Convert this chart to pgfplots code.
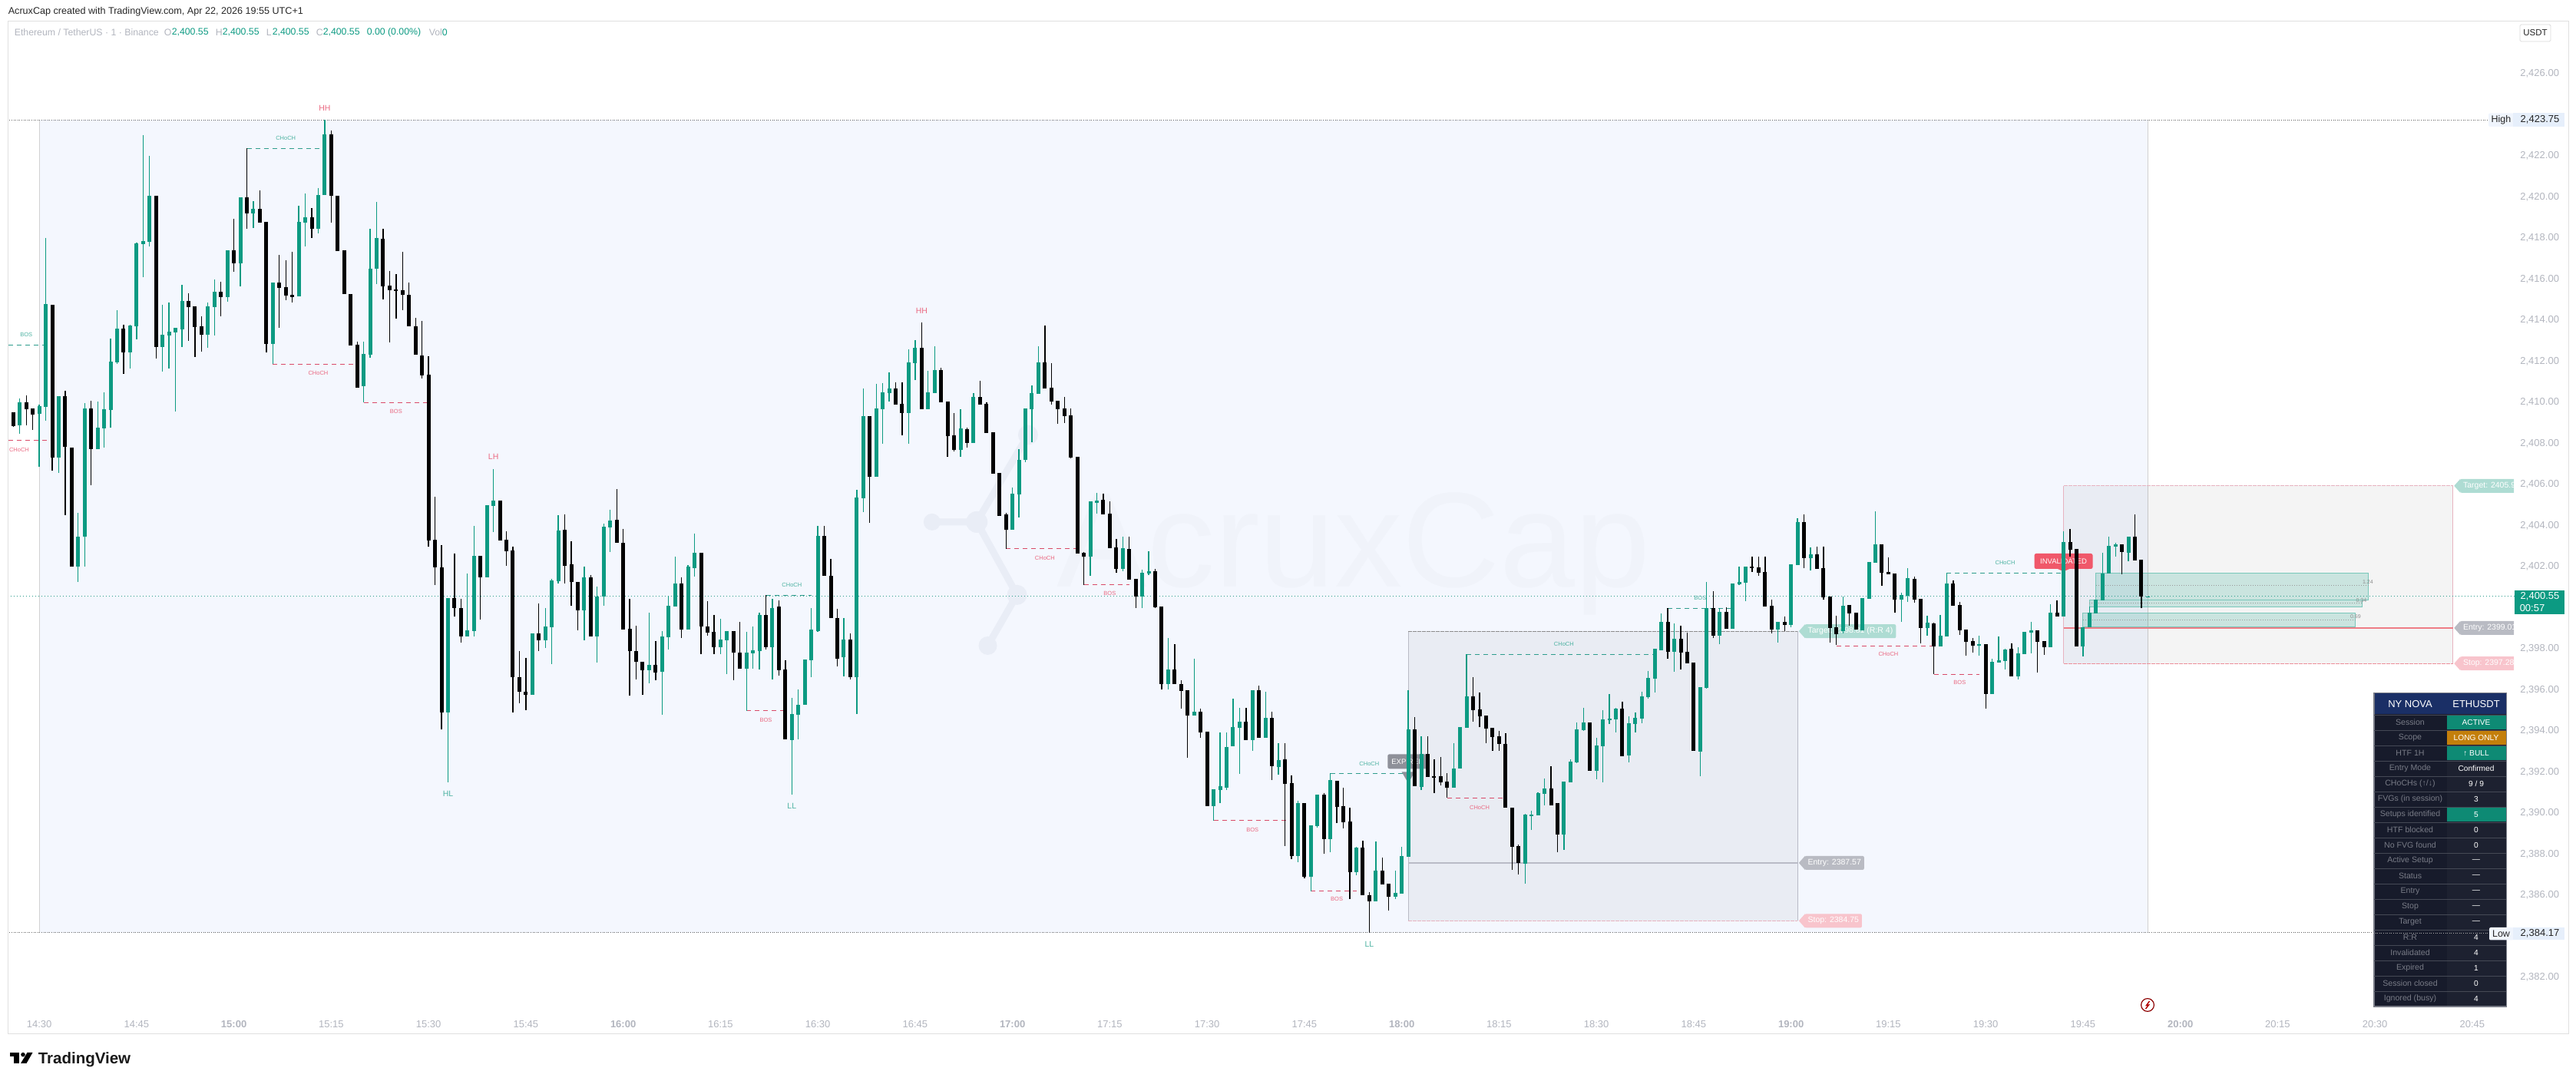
\documentclass[border=0pt]{standalone}
\usepackage{fontspec}
\setmainfont{Liberation Sans}
\usepackage{pgfplots}
\usepackage{pgfplotstable}
\pgfplotsset{compat=1.18}
\newcommand{\fs}[1]{\pgfmathsetlengthmacro\tmpfs{#1pt/4}\fontsize{\tmpfs}{\tmpfs}\selectfont}
\definecolor{tvgreen}{HTML}{0C9A82}
\definecolor{tvtick}{HTML}{B2B5BE}
\definecolor{tealtxt}{HTML}{4FB3A3}
\definecolor{redtxt}{HTML}{EA6A82}
\definecolor{tealdash}{HTML}{2E9C8C}
\definecolor{reddash}{HTML}{D94A68}
\definecolor{session}{HTML}{F4F7FE}
\definecolor{wm}{HTML}{F0F3FA}
\definecolor{wmlogo}{HTML}{E9EDF6}
\definecolor{callteal}{HTML}{AEDCD3}
\definecolor{callgray}{HTML}{B9BBC3}
\definecolor{callpink}{HTML}{F8C4CC}
\definecolor{zonegray}{HTML}{B9BBC6}
\definecolor{zonepink}{HTML}{E7B3C0}
\definecolor{flaggray}{HTML}{8E9099}
\definecolor{flagred}{HTML}{F0586A}
\definecolor{hudbg}{HTML}{1D2130}
\definecolor{hudleft}{HTML}{171B2B}
\definecolor{hudhead}{HTML}{1A2F66}
\definecolor{hudteal}{HTML}{0E8A74}
\definecolor{hudorange}{HTML}{C47F0B}
\definecolor{hudtxt}{HTML}{787B86}
\definecolor{tagbg}{HTML}{E6EFFB}
\pgfplotstableread{
m o h l c
-5 2412.28 2412.28 2409.53 2409.53
-4 2409.53 2409.53 2408.82 2408.84
-3 2408.86 2410.20 2408.46 2409.99
-2 2409.99 2410.32 2408.89 2409.67
-1 2409.69 2409.69 2408.67 2409.40
0 2409.43 2409.89 2406.87 2409.82
1 2409.79 2418.00 2409.10 2414.78
2 2414.74 2414.74 2406.67 2407.31
3 2407.31 2410.30 2406.55 2410.30
4 2410.30 2410.56 2404.50 2407.84
5 2407.81 2407.81 2401.98 2401.98
6 2401.98 2404.60 2401.26 2403.44
7 2403.44 2409.96 2401.99 2409.70
8 2409.70 2410.07 2405.95 2407.70
9 2407.70 2410.03 2407.70 2408.76
10 2408.74 2410.49 2407.79 2409.65
11 2409.63 2413.11 2408.77 2411.98
12 2411.95 2414.48 2411.86 2413.58
13 2413.58 2413.79 2411.39 2412.43
14 2412.43 2413.77 2411.65 2413.74
15 2413.71 2417.77 2413.06 2417.74
16 2417.70 2423.01 2416.11 2417.84
17 2417.81 2421.99 2417.59 2420.06
18 2420.06 2420.06 2412.13 2412.69
19 2412.69 2414.75 2411.49 2413.29
20 2413.25 2414.85 2411.65 2413.44
21 2413.39 2413.62 2409.56 2413.62
22 2413.55 2415.71 2412.69 2414.94
23 2414.94 2415.31 2412.99 2414.64
24 2414.67 2414.67 2412.21 2413.68
25 2413.69 2414.18 2412.46 2413.29
26 2413.29 2414.85 2412.65 2414.67
27 2414.64 2415.97 2413.25 2415.38
28 2415.38 2415.87 2414.18 2415.12
29 2415.12 2417.40 2414.90 2417.40
30 2417.40 2418.93 2416.37 2416.77
31 2416.77 2419.97 2415.64 2419.97
32 2419.97 2422.36 2418.44 2419.19
33 2419.19 2419.79 2418.49 2419.42
34 2419.42 2420.32 2418.74 2418.74
35 2418.79 2418.79 2412.42 2412.84
36 2412.84 2415.83 2411.85 2415.83
37 2415.83 2417.17 2413.62 2415.57
38 2415.61 2416.93 2414.97 2415.20
39 2415.22 2417.33 2414.85 2415.12
40 2415.15 2419.57 2415.15 2418.79
41 2418.74 2420.16 2417.59 2419.00
42 2419.00 2419.46 2418.00 2418.44
43 2418.44 2420.44 2418.24 2420.08
44 2420.08 2423.75 2420.08 2423.05
45 2423.05 2423.25 2418.74 2420.06
46 2420.06 2420.06 2417.37 2417.37
47 2417.41 2417.41 2415.27 2415.27
48 2415.27 2415.27 2412.78 2412.78
49 2412.81 2412.96 2410.71 2410.71
50 2410.79 2412.96 2409.99 2412.35
51 2412.33 2418.44 2412.17 2416.52
52 2416.52 2419.74 2415.74 2418.01
53 2417.96 2418.44 2415.02 2415.64
54 2415.67 2416.41 2412.90 2415.47
55 2415.49 2416.24 2414.07 2415.45
56 2415.44 2417.32 2414.49 2415.22
57 2415.24 2415.82 2413.69 2413.69
58 2413.70 2414.10 2412.30 2412.30
59 2412.28 2413.95 2411.15 2411.32
60 2411.35 2412.23 2402.98 2403.28
61 2403.31 2405.39 2401.09 2401.95
62 2401.96 2403.06 2394.08 2394.88
63 2394.88 2400.47 2391.50 2400.47
64 2400.47 2402.63 2399.55 2399.97
65 2399.97 2400.44 2398.28 2398.61
66 2398.61 2401.67 2398.61 2398.90
67 2398.84 2403.97 2398.61 2402.52
68 2402.52 2402.52 2399.43 2401.47
69 2401.47 2405.00 2401.47 2405.00
70 2404.96 2406.75 2403.69 2405.21
71 2405.21 2405.21 2403.28 2403.28
72 2403.31 2403.72 2402.04 2402.74
73 2402.79 2402.98 2394.89 2396.60
74 2396.62 2397.90 2395.35 2395.91
75 2395.91 2397.56 2395.01 2395.75
76 2395.75 2398.75 2395.75 2398.75
77 2398.75 2400.20 2397.90 2398.41
78 2398.41 2399.98 2398.04 2399.09
79 2399.05 2401.40 2397.26 2401.32
80 2401.30 2404.50 2401.18 2403.76
81 2403.79 2404.55 2401.18 2402.03
82 2402.11 2403.23 2400.10 2401.25
83 2401.25 2401.25 2398.90 2399.88
84 2399.88 2402.01 2398.41 2401.47
85 2401.47 2401.59 2398.61 2398.61
86 2398.61 2401.03 2397.33 2400.54
87 2400.53 2404.09 2400.10 2403.94
88 2403.91 2404.78 2402.69 2404.25
89 2404.29 2405.77 2403.14 2403.14
90 2403.16 2403.84 2398.95 2398.95
91 2398.97 2400.42 2395.73 2397.87
92 2397.87 2399.11 2396.51 2397.37
93 2397.37 2397.37 2395.75 2396.95
94 2396.95 2399.74 2396.31 2397.20
95 2397.20 2398.39 2396.47 2396.83
96 2396.89 2398.84 2394.77 2398.59
97 2398.57 2400.57 2397.95 2400.09
98 2400.05 2402.48 2400.05 2401.19
99 2401.19 2401.48 2398.53 2398.93
100 2398.93 2402.07 2398.93 2402.00
101 2401.92 2403.61 2401.51 2402.67
102 2402.67 2402.67 2397.72 2399.07
103 2399.07 2400.32 2398.64 2398.78
104 2398.82 2399.65 2397.72 2398.07
105 2398.07 2399.45 2397.72 2398.45
106 2398.41 2398.87 2396.75 2398.87
107 2398.87 2398.87 2396.47 2397.80
108 2397.81 2399.30 2397.03 2397.03
109 2397.03 2398.82 2394.98 2397.81
110 2397.78 2399.07 2397.03 2397.91
111 2397.87 2399.76 2397.00 2399.65
112 2399.65 2400.61 2397.95 2398.07
113 2398.07 2400.42 2396.51 2399.99
114 2400.05 2400.34 2396.70 2396.95
115 2396.99 2397.43 2393.58 2393.58
116 2393.56 2395.60 2390.88 2394.83
117 2394.79 2396.02 2393.58 2395.27
118 2395.25 2397.47 2395.25 2397.47
119 2397.43 2399.97 2396.62 2398.95
120 2398.87 2403.98 2398.82 2403.50
121 2403.50 2403.98 2401.55 2401.55
122 2401.55 2402.38 2399.51 2399.51
123 2399.51 2399.93 2397.14 2397.53
124 2397.59 2399.50 2396.66 2398.45
125 2398.43 2398.75 2396.50 2396.60
126 2396.60 2405.72 2394.82 2405.36
127 2405.34 2410.68 2404.67 2409.33
128 2409.33 2409.33 2404.14 2406.39
129 2406.39 2410.90 2406.39 2409.71
130 2409.68 2410.94 2407.99 2410.49
131 2410.45 2411.46 2410.04 2410.68
132 2410.68 2410.98 2409.90 2409.90
133 2409.93 2410.98 2408.40 2409.48
134 2409.48 2412.58 2407.99 2411.95
135 2411.92 2413.03 2411.09 2412.66
136 2412.65 2413.89 2409.66 2409.66
137 2409.66 2411.53 2409.66 2410.48
138 2410.45 2412.73 2410.45 2411.57
139 2411.57 2411.68 2410.00 2410.00
140 2410.04 2410.04 2407.34 2408.35
141 2408.39 2409.47 2407.61 2407.68
142 2407.68 2409.66 2407.34 2408.73
143 2408.69 2408.76 2407.79 2408.02
144 2408.02 2410.45 2408.02 2410.26
145 2410.26 2411.05 2409.89 2409.89
146 2409.92 2410.00 2408.50 2408.50
147 2408.54 2408.54 2406.52 2406.52
148 2406.56 2406.56 2404.47 2404.47
149 2404.54 2404.60 2402.86 2403.79
150 2403.79 2405.85 2403.79 2405.55
151 2405.51 2407.72 2404.39 2407.19
152 2407.19 2409.70 2407.08 2409.70
153 2409.66 2410.82 2408.05 2410.45
154 2410.41 2412.73 2410.41 2411.94
155 2411.94 2413.74 2410.67 2410.67
156 2410.71 2411.90 2409.89 2410.04
157 2410.07 2410.07 2408.95 2409.66
158 2409.70 2410.26 2408.99 2409.33
159 2409.36 2409.70 2407.27 2407.31
160 2407.34 2407.34 2402.63 2402.63
161 2402.67 2402.71 2401.11 2402.48
162 2402.48 2405.18 2401.55 2405.18
163 2405.10 2405.59 2404.58 2405.21
164 2405.25 2405.55 2404.54 2404.54
165 2404.58 2405.18 2402.90 2402.90
166 2402.93 2403.34 2401.70 2401.89
167 2401.89 2403.46 2401.77 2402.90
168 2402.86 2403.46 2401.36 2401.36
169 2401.40 2401.40 2399.98 2400.54
170 2400.54 2401.85 2399.98 2401.70
171 2401.65 2402.75 2401.59 2401.77
172 2401.77 2401.89 2399.98 2400.02
173 2400.06 2400.06 2396.00 2396.28
174 2396.28 2398.51 2396.00 2396.97
175 2396.97 2398.21 2396.28 2396.28
176 2396.28 2396.45 2395.10 2395.94
177 2395.96 2395.96 2392.68 2394.74
178 2394.76 2397.50 2394.76 2394.93
179 2394.93 2395.10 2393.66 2393.92
180 2393.96 2393.96 2390.32 2390.32
181 2390.32 2391.17 2389.63 2391.17
182 2391.11 2393.92 2390.49 2391.30
183 2391.24 2393.92 2391.13 2393.23
184 2393.24 2395.56 2393.24 2394.19
185 2394.14 2395.12 2391.91 2394.46
186 2394.46 2395.12 2393.54 2393.54
187 2393.54 2395.97 2393.04 2395.97
188 2395.97 2396.19 2393.67 2393.67
189 2393.66 2395.90 2393.66 2394.63
190 2394.63 2394.93 2391.61 2392.27
191 2392.25 2393.40 2391.88 2392.57
192 2392.61 2393.40 2388.39 2391.41
193 2391.45 2391.83 2387.75 2387.92
194 2387.92 2390.60 2387.61 2390.50
195 2390.48 2390.48 2386.83 2386.90
196 2386.90 2389.39 2386.20 2389.39
197 2389.37 2390.91 2389.28 2390.91
198 2390.90 2390.98 2388.03 2388.72
199 2388.72 2391.95 2388.09 2391.60
200 2391.57 2391.57 2389.52 2390.29
201 2390.34 2391.23 2389.25 2389.55
202 2389.58 2390.25 2385.80 2387.12
203 2387.12 2388.35 2386.98 2388.32
204 2388.31 2388.64 2385.98 2385.98
205 2385.99 2386.16 2384.17 2385.70
206 2385.70 2388.61 2385.70 2387.19
207 2387.19 2387.82 2386.52 2386.52
208 2386.56 2386.56 2385.25 2385.92
209 2385.92 2387.19 2385.82 2386.10
210 2386.07 2388.35 2386.07 2387.91
211 2387.86 2395.97 2387.86 2394.07
212 2394.07 2394.66 2391.30 2391.30
213 2391.27 2393.74 2391.13 2392.86
214 2392.86 2393.74 2391.75 2391.75
215 2391.78 2392.61 2390.97 2391.75
216 2391.78 2392.71 2391.34 2391.50
217 2391.53 2391.93 2390.74 2391.23
218 2391.23 2393.40 2391.23 2392.17
219 2392.17 2394.19 2392.17 2394.19
220 2394.14 2397.72 2394.14 2395.67
221 2395.67 2396.62 2394.44 2395.00
222 2395.04 2395.86 2394.19 2394.70
223 2394.74 2394.74 2393.40 2394.10
224 2394.14 2394.14 2393.04 2393.70
225 2393.73 2394.00 2393.04 2393.36
226 2393.36 2393.89 2390.24 2390.24
227 2390.25 2390.25 2387.23 2388.35
228 2388.39 2388.46 2387.01 2387.55
229 2387.52 2389.95 2386.56 2389.92
230 2389.89 2390.11 2389.18 2389.92
231 2389.89 2391.00 2389.89 2390.96
232 2390.92 2391.67 2390.38 2391.20
233 2391.20 2392.27 2390.38 2390.38
234 2390.49 2390.49 2388.08 2388.94
235 2388.94 2391.52 2388.19 2391.52
236 2391.51 2392.60 2391.51 2392.49
237 2392.47 2394.41 2392.42 2394.08
238 2394.04 2395.13 2393.98 2394.41
239 2394.41 2394.41 2392.06 2392.06
240 2392.06 2393.66 2391.65 2393.29
241 2393.25 2395.01 2391.50 2394.56
242 2394.52 2395.79 2394.34 2394.60
243 2394.56 2395.11 2393.93 2395.08
244 2395.08 2395.42 2392.77 2392.77
245 2392.80 2394.71 2392.47 2394.37
246 2394.34 2394.90 2393.93 2394.64
247 2394.60 2395.91 2394.37 2395.68
248 2395.65 2396.92 2395.55 2396.58
249 2396.54 2398.00 2395.87 2398.00
250 2397.93 2399.72 2397.93 2399.31
251 2399.31 2399.98 2397.51 2397.85
252 2397.85 2399.23 2396.88 2398.49
253 2398.49 2399.12 2396.99 2397.81
254 2397.85 2398.78 2397.29 2397.29
255 2397.33 2397.33 2393.03 2393.03
256 2392.99 2396.13 2391.79 2396.13
257 2396.09 2401.25 2396.06 2399.98
258 2399.98 2400.80 2398.52 2398.64
259 2398.64 2399.98 2398.22 2399.79
260 2399.79 2400.02 2398.97 2398.97
261 2398.97 2401.18 2398.97 2401.18
262 2401.13 2402.00 2401.10 2401.25
263 2401.22 2402.00 2400.32 2402.00
264 2402.00 2402.49 2401.74 2401.95
265 2401.96 2402.49 2401.55 2401.70
266 2401.74 2402.49 2400.06 2400.06
267 2400.09 2400.39 2398.75 2398.93
268 2398.93 2399.31 2398.30 2399.31
269 2399.31 2399.57 2398.86 2399.16
270 2399.16 2402.11 2399.05 2402.11
271 2402.07 2404.36 2402.07 2404.17
272 2404.17 2404.54 2401.93 2402.41
273 2402.41 2402.93 2401.81 2402.60
274 2402.60 2402.97 2401.89 2401.89
275 2401.93 2402.97 2400.39 2400.50
276 2400.54 2400.54 2398.30 2399.01
277 2399.05 2399.61 2398.19 2398.71
278 2398.86 2400.55 2398.75 2400.08
279 2400.13 2400.13 2399.12 2399.72
280 2399.76 2399.76 2398.93 2398.93
281 2398.91 2400.47 2398.88 2400.47
282 2400.43 2402.22 2400.43 2402.22
283 2402.19 2404.69 2402.19 2403.08
284 2403.08 2403.08 2401.07 2401.70
285 2401.74 2402.45 2401.63 2401.63
286 2401.66 2401.66 2399.76 2400.39
287 2400.39 2400.73 2399.31 2400.62
288 2400.58 2401.93 2400.28 2401.44
289 2401.40 2401.51 2400.24 2400.39
290 2400.43 2400.43 2398.26 2399.01
291 2399.01 2399.61 2398.64 2399.27
292 2399.23 2399.27 2396.77 2398.11
293 2398.11 2399.65 2398.11 2398.64
294 2398.60 2401.69 2398.60 2401.18
295 2401.18 2401.33 2400.09 2400.09
296 2400.13 2400.28 2398.67 2398.90
297 2398.93 2398.93 2397.66 2398.34
298 2398.37 2398.52 2397.81 2398.15
299 2398.19 2398.64 2397.66 2398.22
300 2398.22 2398.22 2395.08 2395.79
301 2395.79 2397.51 2395.79 2397.36
302 2397.33 2398.60 2397.33 2397.44
303 2397.40 2398.00 2396.99 2397.96
304 2398.00 2398.26 2396.65 2396.65
305 2396.65 2398.07 2396.50 2397.78
306 2397.74 2398.82 2397.74 2398.82
307 2398.79 2399.31 2397.78 2398.90
308 2398.90 2398.90 2396.84 2398.34
309 2398.37 2398.37 2397.70 2398.07
310 2398.07 2400.17 2398.07 2399.76
311 2399.76 2400.36 2399.57 2399.57
312 2399.57 2403.72 2399.57 2403.20
313 2403.20 2403.83 2402.49 2402.82
314 2402.86 2402.86 2398.11 2398.11
315 2398.11 2399.05 2397.63 2399.05
316 2399.05 2400.06 2399.05 2399.76
317 2399.72 2400.39 2399.72 2400.39
318 2400.36 2402.67 2400.36 2401.66
319 2401.66 2403.46 2401.66 2403.01
320 2402.97 2403.16 2402.49 2403.08
321 2403.08 2403.08 2401.64 2402.71
322 2402.67 2403.46 2402.26 2403.46
323 2403.46 2404.54 2402.30 2402.30
324 2402.34 2402.34 2399.98 2400.54
325 2400.55 2400.55 2400.55 2400.55
}\ohlc
\tikzset{
 dashT/.style={color=tealdash,line width=.275pt,dash pattern=on 1.5pt off 1.25pt},
 dashR/.style={color=reddash,line width=.275pt,dash pattern=on 1.5pt off 1.25pt},
 dots/.style={color=black!60,line width=.25pt,dash pattern=on .25pt off .4pt},
 mid/.style={color=black!40,line width=.18pt,dash pattern=on .25pt off .5pt},
 zdash/.style={line width=.28pt,dash pattern=on 1.25pt off .25pt},
}
\newcommand{\zone}[5]{\addplot[#1,forget plot] coordinates {(#2,#4)(#3,#4)(#3,#5)(#2,#5)(#2,#4)};}
\newcommand{\level}[4]{\addplot[#1,forget plot] coordinates {(#2,#4)(#3,#4)};}
\newcommand{\vlevel}[4]{\addplot[#1,forget plot] coordinates {(#2,#3)(#2,#4)};}
\newcommand{\lab}[4]{\node[font=\fs{7.5},text=#1,inner sep=0pt] at (axis cs:#2,#3) {#4};}
\newcommand{\piv}[4]{\node[font=\fs{10.5},text=#1,inner sep=0pt] at (axis cs:#2,#3) {#4};}
\newcommand{\callout}[4]{%
 \fill[#1] (axis cs:#2,#3) -- ++(2pt,2.25pt) -- ++(0pt,-4.5pt) -- cycle;
 \node[anchor=west,fill=#1,rounded corners=.5pt,text=white,inner xsep=1pt,inner ysep=0pt,minimum height=4.5pt,font=\fs{10.5},xshift=1.75pt] at (axis cs:#2,#3) {#4};}
\newcommand{\hudrow}[4]{%
 \fill[#4] (3186.7,{932+20*(#1)}) rectangle (3263.5,{950.5+20*(#1)});
 \draw[white!20!hudleft,line width=.12pt] (3092,{931+20*(#1)}) -- (3264,{931+20*(#1)});
 \node[text=hudtxt,font=\fs{10.6}] at (3139,{941+20*(#1)}) {#2};
 \node[text=white,font=\fs{10.2}] at (3225,{941+20*(#1)}) {#3};}
\begin{document}
\begin{tikzpicture}
\begin{axis}[
 at={(0,0)},anchor=south west,scale only axis,width=838.75pt,height=352pt,
 xmin=-6.036,xmax=391.0,ymin=2376.95,ymax=2429.59,
 axis line style={draw=none},tick style={draw=none},major tick length=0pt,
 xtick={0,15,...,375},
 xticklabels={14:30,14:45,\textbf{15:00},15:15,15:30,15:45,\textbf{16:00},16:15,16:30,16:45,\textbf{17:00},17:15,17:30,17:45,\textbf{18:00},18:15,18:30,18:45,\textbf{19:00},19:15,19:30,19:45,\textbf{20:00},20:15,20:30,20:45},
 ytick={2382,2386,2388,2390,2392,2394,2396,2398,2402,2404,2406,2408,2410,2412,2414,2416,2418,2420,2422,2426},
 yticklabels={{2,382.00},{2,386.00},{2,388.00},{2,390.00},{2,392.00},{2,394.00},{2,396.00},{2,398.00},{2,402.00},{2,404.00},{2,406.00},{2,408.00},{2,410.00},{2,412.00},{2,414.00},{2,416.00},{2,418.00},{2,420.00},{2,422.00},{2,426.00}},
 yticklabel pos=right,
 xticklabel style={text=tvtick,font=\fs{13},anchor=center,yshift=18.4pt},
 yticklabel style={text=tvtick,font=\fs{13},anchor=east,xshift=-2pt},
]
% session background
\zone{fill=session,draw=none}{0}{325}{2384.17}{2423.75}
\vlevel{color=black!18,line width=.25pt}{0}{2384.17}{2423.75}
\vlevel{color=black!18,line width=.25pt}{325}{2384.17}{2423.75}
% watermark
\node[anchor=base,text=wm,font=\fs{176},inner sep=0pt] at (axis cs:202.6,2400.99) {AcruxCap};
\draw[wmlogo,line width=2.25pt] (axis cs:137.6,2404.17) -- (axis cs:144.5,2404.17) -- (axis cs:152.4,2408.41);
\draw[wmlogo,line width=2.25pt] (axis cs:144.5,2404.17) -- (axis cs:150.7,2400.62) -- (axis cs:146.2,2398.15);
\fill[wmlogo] (axis cs:137.6,2404.17) circle (2.75pt);
\fill[wmlogo] (axis cs:144.5,2404.17) circle (3.5pt);
\fill[wmlogo] (axis cs:152.4,2408.41) circle (3.25pt);
\fill[wmlogo] (axis cs:150.7,2400.62) circle (3.25pt);
\fill[wmlogo] (axis cs:146.2,2398.15) circle (3pt);
% setup zones
\zone{fill=black,fill opacity=.045,draw=none}{211}{271}{2384.75}{2398.85}
\vlevel{color=zonegray,line width=.25pt}{211}{2384.75}{2398.85}
\vlevel{color=zonegray,line width=.25pt}{271}{2384.75}{2398.85}
\level{color=black!45,zdash}{211}{271}{2398.85}
\level{color=zonepink,zdash}{211}{271}{2384.75}
\level{color=zonegray,line width=.35pt}{211}{271}{2387.57}
\zone{fill=black,fill opacity=.045,draw=none}{312}{372}{2397.28}{2405.93}
\vlevel{color=zonepink,line width=.25pt}{312}{2397.28}{2405.93}
\vlevel{color=zonepink,line width=.25pt}{372}{2397.28}{2405.93}
\level{color=zonepink,zdash}{312}{372}{2405.93}
\level{color=zonepink!80!red,zdash}{312}{372}{2397.28}
\level{color=zonepink!70!red,line width=.4pt}{312}{372}{2399.01}
% FVG boxes
\zone{fill=tvgreen,fill opacity=.18,draw=tvgreen!55,line width=.25pt}{317}{359}{2400.37}{2401.68}
\zone{fill=tvgreen,fill opacity=.18,draw=tvgreen!55,line width=.25pt}{316}{358}{2400.03}{2400.39}
\zone{fill=tvgreen,fill opacity=.18,draw=tvgreen!55,line width=.25pt}{315}{357}{2399.06}{2399.74}
\level{mid}{317}{359}{2401.10}
\level{mid}{316}{358}{2400.21}
\level{mid}{315}{357}{2399.40}
\node[text=black!45,font=\fs{7},inner sep=0pt] at (axis cs:358.9,2401.25) {1.24};
\node[text=black!45,font=\fs{7},inner sep=0pt] at (axis cs:357.9,2400.35) {0.34};
\node[text=black!45,font=\fs{7},inner sep=0pt] at (axis cs:357,2399.56) {0.69};
% High, Low and last price
\level{dots}{-4.9}{377.6}{2423.75}
\level{dots}{-4.9}{377.6}{2384.17}
\level{color=tealdash,line width=.25pt,dash pattern=on .3pt off .7pt}{-4.9}{381.4}{2400.55}
% callouts
\callout{callteal}{271.2}{2398.85}{Target: 2398.81 (R:R 4)}
\callout{callgray}{271.2}{2387.57}{Entry: 2387.57}
\callout{callpink}{271.2}{2384.75}{Stop: 2384.75}
\begin{scope}
\clip (axis cs:360,2378) rectangle (axis cs:381.4,2429);
\callout{callteal}{372.2}{2405.93}{Target: 2405.93 (R:R 4)}
\callout{callgray}{372.2}{2399.01}{Entry: 2399.01}
\callout{callpink}{372.2}{2397.28}{Stop: 2397.28}
\end{scope}
% status flags
\fill[flaggray] (axis cs:210,2392.0) -- (axis cs:211,2391.45) -- (axis cs:212,2392.0) -- cycle;
\node[fill=flaggray,rounded corners=.6pt,text=white,minimum width=13pt,minimum height=4.75pt,inner sep=0pt,font=\fs{9.5}] at (axis cs:210.9,2392.51) {EXPIRED};
\fill[flagred] (axis cs:311,2401.9) -- (axis cs:312,2401.76) -- (axis cs:313,2401.9) -- cycle;
\node[fill=flagred,rounded corners=.6pt,text=white,minimum width=19pt,minimum height=5pt,inner sep=0pt,font=\fs{9.5}] at (axis cs:312,2402.26) {INVALIDATED};
% structure breaks
\level{dashT}{-4.8}{1}{2412.79}
\level{dashR}{-4.8}{2}{2408.16}
\level{dashT}{32}{44}{2422.36}
\level{dashR}{36}{49}{2411.85}
\level{dashR}{50}{60}{2409.99}
\level{dashR}{109}{115}{2394.98}
\level{dashT}{112}{119}{2400.59}
\level{dashR}{149}{160}{2402.86}
\level{dashR}{161}{168}{2401.11}
\level{dashR}{181}{193}{2389.63}
\level{dashR}{196}{203}{2386.20}
\level{dashT}{199}{211}{2391.93}
\level{dashR}{217}{226}{2390.74}
\level{dashT}{220}{249}{2397.72}
\level{dashT}{251}{261}{2399.97}
\level{dashR}{277}{292}{2398.12}
\level{dashR}{292}{299}{2396.75}
\level{dashT}{294}{312}{2401.69}
\lab{tealtxt}{-2.0}{2413.28}{BOS}
\lab{redtxt}{-3.1}{2407.70}{CHoCH}
\lab{tealtxt}{38}{2422.85}{CHoCH}
\lab{redtxt}{43}{2411.42}{CHoCH}
\lab{redtxt}{55}{2409.54}{BOS}
\lab{redtxt}{112}{2394.54}{BOS}
\lab{tealtxt}{116}{2401.09}{CHoCH}
\lab{redtxt}{155}{2402.43}{CHoCH}
\lab{redtxt}{165}{2400.71}{BOS}
\lab{redtxt}{187}{2389.16}{BOS}
\lab{redtxt}{200}{2385.80}{BOS}
\lab{tealtxt}{205}{2392.41}{CHoCH}
\lab{redtxt}{222}{2390.28}{CHoCH}
\lab{tealtxt}{235}{2398.21}{CHoCH}
\lab{tealtxt}{256}{2400.46}{BOS}
\lab{redtxt}{285}{2397.73}{CHoCH}
\lab{redtxt}{296}{2396.34}{BOS}
\lab{tealtxt}{303}{2402.17}{CHoCH}
\piv{redtxt}{44}{2424.33}{HH}
\piv{redtxt}{70}{2407.34}{LH}
\piv{tealtxt}{63}{2390.93}{HL}
\piv{tealtxt}{116}{2390.32}{LL}
\piv{redtxt}{136}{2414.46}{HH}
\piv{tealtxt}{205}{2383.59}{LL}
% candles: wicks, then bodies
\addplot[draw=none,forget plot,error bars/.cd,y dir=minus,y explicit,error mark=none,error bar style={draw=tvgreen,line width=.33pt}]
 table[x expr={\thisrow{c}>=\thisrow{o}?\thisrow{m}:-1000},y=h,y error minus expr={\thisrow{h}-\thisrow{l}}] {\ohlc};
\addplot[draw=none,forget plot,error bars/.cd,y dir=minus,y explicit,error mark=none,error bar style={draw=black,line width=.33pt}]
 table[x expr={\thisrow{c}<\thisrow{o}?\thisrow{m}:-1000},y=h,y error minus expr={\thisrow{h}-\thisrow{l}}] {\ohlc};
\addplot[draw=none,forget plot,error bars/.cd,y dir=minus,y explicit,error mark=none,error bar style={draw=tvgreen,line width=1.25pt}]
 table[x expr={\thisrow{c}>=\thisrow{o}?\thisrow{m}:-1000},y=c,y error minus expr={max(\thisrow{c}-\thisrow{o},0.06)}] {\ohlc};
\addplot[draw=none,forget plot,error bars/.cd,y dir=minus,y explicit,error mark=none,error bar style={draw=black,line width=1.25pt}]
 table[x expr={\thisrow{c}<\thisrow{o}?\thisrow{m}:-1000},y=o,y error minus expr={max(\thisrow{o}-\thisrow{c},0.06)}] {\ohlc};
\end{axis}
\begin{scope}[x=.25pt,y=-.25pt,yshift=352pt]
% outer white margins and pane frame
\fill[white] (0,0) rectangle (10,1408);
\draw[black!12,line width=.25pt] (10,27.5) rectangle (3345,1347);
% header
\node[anchor=west,inner sep=0pt,text=black!85,font=\fs{12.6}] at (10,15.6) {AcruxCap created with TradingView.com, Apr 22, 2026 19:55 UTC+1};
\begin{scope}[every node/.style={anchor=west,inner sep=0pt,font=\fs{12.3}}]
\node[text=tvtick] at (18,42.4) {Ethereum / TetherUS · 1 · Binance};
\node[text=tvtick] at (213,42.4) {O};
\node[text=tvgreen] at (223,42.4) {2,400.55};
\node[text=tvtick] at (280,42.4) {H};
\node[text=tvgreen] at (289,42.4) {2,400.55};
\node[text=tvtick] at (346,42.4) {L};
\node[text=tvgreen] at (354,42.4) {2,400.55};
\node[text=tvtick] at (411,42.4) {C};
\node[text=tvgreen] at (420,42.4) {2,400.55};
\node[text=tvgreen] at (477,42.4) {0.00 (0.00\%)};
\node[text=tvtick] at (558,42.4) {Vol};
\node[text=tvgreen] at (575,42.4) {0};
\end{scope}
\draw[black!15,fill=white,rounded corners=.4pt,line width=.2pt] (3282,32) rectangle (3322,54);
\node[text=black!85,font=\fs{11.5}] at (3302,43) {USDT};
% price tags
\fill[tagbg!60!white,rounded corners=.5pt] (3241,147.5) rectangle (3274,165);
\fill[tagbg] (3273,147.5) rectangle (3340,165);
\node[text=black!85,font=\fs{12.5}] at (3257.5,156) {High};
\node[text=black!85,font=\fs{13}] at (3308,156) {2,423.75};
\fill[tvgreen] (3274.5,769) rectangle (3340,800);
\node[text=white,font=\fs{13}] at (3308,777) {2,400.55};
\node[text=white,font=\fs{13}] at (3298,792) {00:57};
% HUD
\fill[hudtxt] (3091,902) rectangle (3265,1312);
\fill[hudbg] (3092.5,903.5) rectangle (3263.5,1310.5);
\fill[hudleft] (3092.5,903.5) rectangle (3186.7,1310.5);
\fill[hudhead] (3092.5,903.5) rectangle (3263.5,930.5);
\node[text=white,font=\fs{13}] at (3139,917) {NY NOVA};
\node[text=white,font=\fs{13}] at (3225,917) {ETHUSDT};
\hudrow{0}{Session}{ACTIVE}{hudteal}
\hudrow{1}{Scope}{LONG ONLY}{hudorange}
\hudrow{2}{HTF 1H}{↑ BULL}{hudteal}
\hudrow{3}{Entry Mode}{Confirmed}{hudbg}
\hudrow{4}{CHoCHs (↑/↓)}{9 / 9}{hudbg}
\hudrow{5}{FVGs (in session)}{3}{hudbg}
\hudrow{6}{Setups identified}{5}{hudteal}
\hudrow{7}{HTF blocked}{0}{hudbg}
\hudrow{8}{No FVG found}{0}{hudbg}
\hudrow{9}{Active Setup}{—}{hudbg}
\hudrow{10}{Status}{—}{hudbg}
\hudrow{11}{Entry}{—}{hudbg}
\hudrow{12}{Stop}{—}{hudbg}
\hudrow{13}{Target}{—}{hudbg}
\hudrow{14}{R:R}{4}{hudbg}
\hudrow{15}{Invalidated}{4}{hudbg}
\hudrow{16}{Expired}{1}{hudbg}
\hudrow{17}{Session closed}{0}{hudbg}
\hudrow{18}{Ignored (busy)}{4}{hudbg}
\draw[black!35,line width=.25pt,dash pattern=on .25pt off .4pt] (3091,1216) -- (3242,1216);
\fill[tagbg!60!white,rounded corners=.5pt] (3242,1208) rectangle (3274,1224.5);
\fill[tagbg] (3273,1208) rectangle (3340,1224.5);
\node[text=black!85,font=\fs{12.5}] at (3257.5,1216) {Low};
\node[text=black!85,font=\fs{13}] at (3308,1216) {2,384.17};
% time-axis icon
\draw[red!55!black,line width=.3pt] (2797,1309) circle (2.1pt);
\draw[red!70!black,line width=.35pt] (2799.5,1304) -- (2795.5,1309.5) -- (2798.5,1309) -- (2794.5,1314);
% footer logo
\fill[black] (12.6,1371) rectangle (24.5,1376);
\fill[black] (17.5,1376) rectangle (24.5,1385);
\fill[black] (30,1373.7) circle (.7pt);
\fill[black] (35.5,1371) -- (42.5,1371) -- (34.5,1385) -- (27,1385) -- cycle;
\node[anchor=west,inner sep=0pt,text=black!90,font=\fs{20.5}\bfseries] at (49,1380) {TradingView};
\end{scope}
\end{tikzpicture}
\end{document}
